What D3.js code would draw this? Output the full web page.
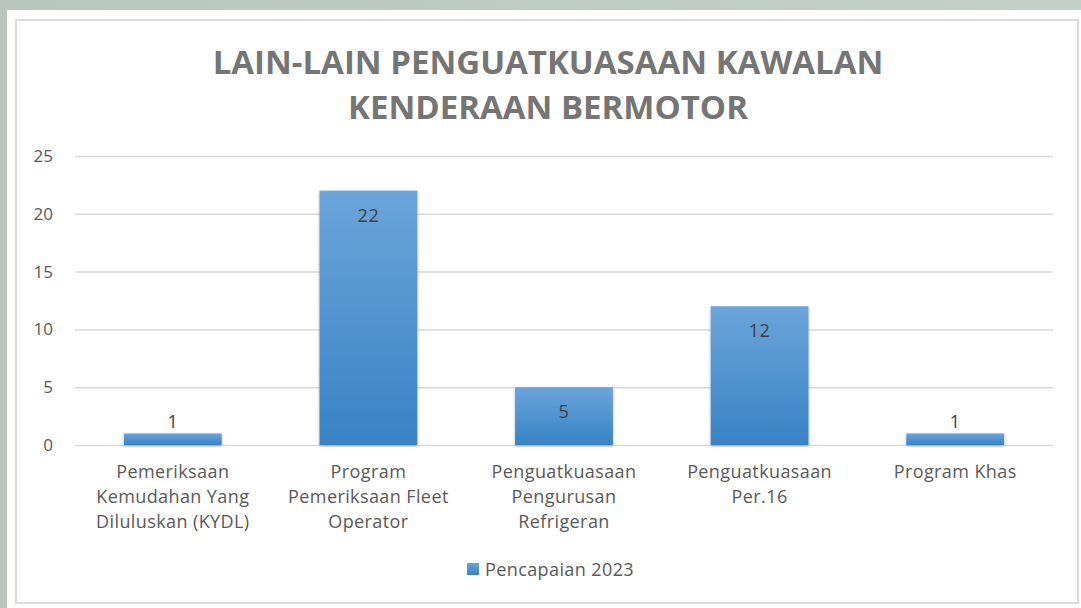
<!DOCTYPE html>
<html>
<head>
  <meta charset="utf-8">
  <style>
    body { margin: 0; background: #fff; font-family: 'Open Sans', sans-serif; }
    .grid line { stroke: #d9d9d9; stroke-width: 1.5px; }
    .cat { fill: #595959; font-size: 18px; letter-spacing: 0.4px; text-anchor: middle; }
    .title { fill: #757575; font-size: 33px; font-weight: bold; text-anchor: middle; }
    .val { fill: #404040; font-size: 18px; letter-spacing: 0.5px; text-anchor: middle; }
  </style>
</head>
<body>
<script src="https://d3js.org/d3.v7.min.js"></script>
<script>
  // data
  var categories = [
    ["Pemeriksaan", "Kemudahan Yang", "Diluluskan (KYDL)"],
    ["Program", "Pemeriksaan Fleet", "Operator"],
    ["Penguatkuasaan", "Pengurusan", "Refrigeran"],
    ["Penguatkuasaan", "Per.16"],
    ["Program Khas"]
  ]
  var values = [1, 22, 5, 12, 1]
  var yTicks = [0, 5, 10, 15, 20, 25]
  var seriesName = "Pencapaian 2023"
  var titleLines = ["LAIN-LAIN PENGUATKUASAAN KAWALAN", "KENDERAAN BERMOTOR"]

  var width = 1081, height = 608
  var svg = d3.select("body").append("svg")
    .attr("width", width)
    .attr("height", height)

  var defs = svg.append("defs")
  var frameGrad = defs.append("linearGradient").attr("id", "frame")
    .attr("x1", 0).attr("x2", 1).attr("y1", 0).attr("y2", 0)
  frameGrad.append("stop").attr("offset", 0).attr("stop-color", "#b9c6bd")
  frameGrad.append("stop").attr("offset", 1).attr("stop-color", "#c4d0c8")
  var barGrad = defs.append("linearGradient").attr("id", "bar")
    .attr("x1", 0).attr("x2", 0).attr("y1", 0).attr("y2", 1)
  barGrad.append("stop").attr("offset", 0).attr("stop-color", "#6ba4d9")
  barGrad.append("stop").attr("offset", 1).attr("stop-color", "#3883c6")
  var shadow = defs.append("filter").attr("id", "shadow")
    .attr("x", "-10%").attr("y", "-10%").attr("width", "120%").attr("height", "130%")
  shadow.append("feDropShadow").attr("dx", 0).attr("dy", 1).attr("stdDeviation", 1.5)
    .attr("flood-color", "#000").attr("flood-opacity", 0.3)

  // frame
  svg.append("rect").attr("width", width).attr("height", height).attr("fill", "url(#frame)")
  svg.append("rect").attr("x", 7).attr("y", 10).attr("width", width - 7).attr("height", height - 10)
    .attr("fill", "#fff")
  svg.append("rect").attr("x", 16).attr("y", 20).attr("width", 1062).attr("height", 583)
    .attr("fill", "none").attr("stroke", "#dcdcdc").attr("stroke-width", 2)

  // title
  svg.selectAll(".title").data(titleLines).enter().append("text")
    .attr("class", "title")
    .attr("x", 548)
    .attr("y", function(d, i) { return 74 + i * 45 })
    .text(function(d) { return d })

  var x = d3.scaleBand().domain(d3.range(values.length)).range([75, 1053]).paddingInner(0.5).paddingOuter(0.25)
  var y = d3.scaleLinear().domain([0, 25]).range([445, 156])

  // gridlines + y axis
  var yAxis = svg.append("g").attr("class", "grid")
    .attr("transform", "translate(75,0)")
    .call(d3.axisLeft(y).tickValues(yTicks).tickSize(-978).tickPadding(22))
  yAxis.select(".domain").remove()
  yAxis.selectAll(".tick text").attr("font-family", "'Open Sans', sans-serif").attr("font-size", 17).attr("fill", "#595959")

  // bars
  svg.selectAll(".bar").data(values).enter().append("rect")
    .attr("class", "bar")
    .attr("x", function(d, i) { return x(i) })
    .attr("width", x.bandwidth())
    .attr("y", function(d) { return y(d) })
    .attr("height", function(d) { return y(0) - y(d) })
    .attr("fill", "url(#bar)")
    .attr("filter", "url(#shadow)")

  // value labels
  svg.selectAll(".val").data(values).enter().append("text")
    .attr("class", "val")
    .attr("x", function(d, i) { return x(i) + x.bandwidth() / 2 })
    .attr("y", function(d) { return d >= 3 ? y(d) + 31 : y(d) - 5 })
    .text(function(d) { return d })

  // category labels
  categories.forEach(function(lines, i) {
    svg.append("text").attr("class", "cat")
      .selectAll("tspan").data(lines).enter().append("tspan")
      .attr("x", x(i) + x.bandwidth() / 2)
      .attr("y", function(d, j) { return 478 + j * 25 })
      .text(function(d) { return d })
  })

  // legend
  svg.append("rect").attr("x", 467).attr("y", 563).attr("width", 12).attr("height", 12)
    .attr("fill", "url(#bar)")
  svg.append("text").attr("x", 485).attr("y", 576)
    .attr("fill", "#595959").attr("font-size", 18).attr("letter-spacing", 0.4)
    .text(seriesName)
</script>
</body>
</html>
